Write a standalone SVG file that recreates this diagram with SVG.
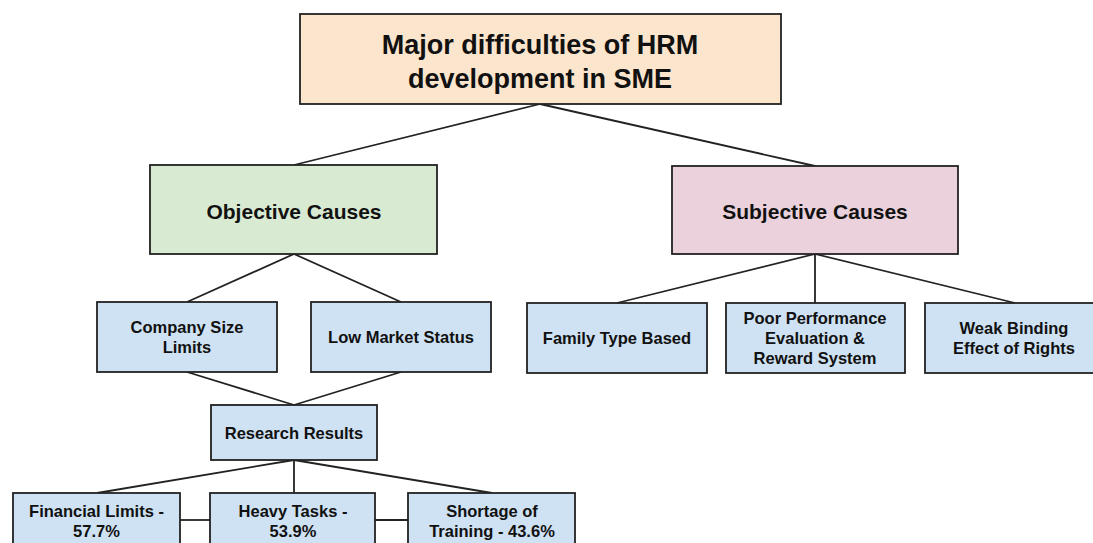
<svg xmlns="http://www.w3.org/2000/svg" width="1093" height="543" viewBox="0 0 1093 543">
<style>
.box{stroke:#222;stroke-width:1.8}
.t{font-family:"Liberation Sans",Arial,sans-serif;font-weight:bold;fill:#111;text-anchor:middle}
.big{font-size:27px}
.mid{font-size:21px}
.sm{font-size:16.5px}
.blue{fill:#cfe2f3}
#connectors line{stroke:#222;stroke-width:1.8}
</style>
<rect width="1093" height="543" fill="#fff"/>
<g id="connectors">
<line x1="540" y1="104" x2="294" y2="165"/>
<line x1="540" y1="104" x2="815" y2="166"/>
<line x1="294" y1="254" x2="187" y2="302"/>
<line x1="294" y1="254" x2="401" y2="302"/>
<line x1="187" y1="372" x2="294" y2="405"/>
<line x1="401" y1="372" x2="294" y2="405"/>
<line x1="815" y1="254" x2="617" y2="303"/>
<line x1="815" y1="254" x2="815" y2="303"/>
<line x1="815" y1="254" x2="1015" y2="303"/>
<line x1="294" y1="460" x2="97" y2="493"/>
<line x1="294" y1="460" x2="294" y2="493"/>
<line x1="294" y1="460" x2="492" y2="493"/>
<line x1="180" y1="520" x2="210" y2="520"/>
<line x1="375" y1="520" x2="408" y2="520"/>
</g>
<g id="root">
<rect class="box" x="300" y="14" width="481" height="90" fill="#fce5cd"/>
<text class="t big" x="540" y="54">Major difficulties of HRM</text>
<text class="t big" x="540" y="88">development in SME</text>
</g>
<g id="objective">
<rect class="box" x="150" y="165" width="287" height="89" fill="#d9ead3"/>
<text class="t mid" x="294" y="219">Objective Causes</text>
</g>
<g id="subjective">
<rect class="box" x="672" y="166" width="286" height="88" fill="#ead1dc"/>
<text class="t mid" x="815" y="219">Subjective Causes</text>
</g>
<g id="company">
<rect class="box blue" x="97" y="302" width="180" height="70"/>
<text class="t sm" x="187" y="333">Company Size</text>
<text class="t sm" x="187" y="353">Limits</text>
</g>
<g id="lowmarket">
<rect class="box blue" x="311" y="302" width="180" height="70"/>
<text class="t sm" x="401" y="343">Low Market Status</text>
</g>
<g id="research">
<rect class="box blue" x="211" y="405" width="166" height="55"/>
<text class="t sm" x="294" y="439">Research Results</text>
</g>
<g id="family">
<rect class="box blue" x="527" y="303" width="180" height="70"/>
<text class="t sm" x="617" y="344">Family Type Based</text>
</g>
<g id="poor">
<rect class="box blue" x="726" y="303" width="179" height="70"/>
<text class="t sm" x="815" y="324">Poor Performance</text>
<text class="t sm" x="815" y="344">Evaluation &amp;</text>
<text class="t sm" x="815" y="364">Reward System</text>
</g>
<g id="weak">
<rect class="box blue" x="925" y="303" width="180" height="70"/>
<text class="t sm" x="1014" y="334">Weak Binding</text>
<text class="t sm" x="1014" y="354">Effect of Rights</text>
</g>
<g id="financial">
<rect class="box blue" x="13" y="493" width="167" height="60"/>
<text class="t sm" x="96.5" y="517">Financial Limits -</text>
<text class="t sm" x="96.5" y="537">57.7%</text>
</g>
<g id="heavy">
<rect class="box blue" x="210" y="493" width="165" height="60"/>
<text class="t sm" x="293" y="517">Heavy Tasks -</text>
<text class="t sm" x="293" y="537">53.9%</text>
</g>
<g id="shortage">
<rect class="box blue" x="408" y="493" width="167" height="60"/>
<text class="t sm" x="492" y="517">Shortage of</text>
<text class="t sm" x="492" y="537">Training - 43.6%</text>
</g>
</svg>
